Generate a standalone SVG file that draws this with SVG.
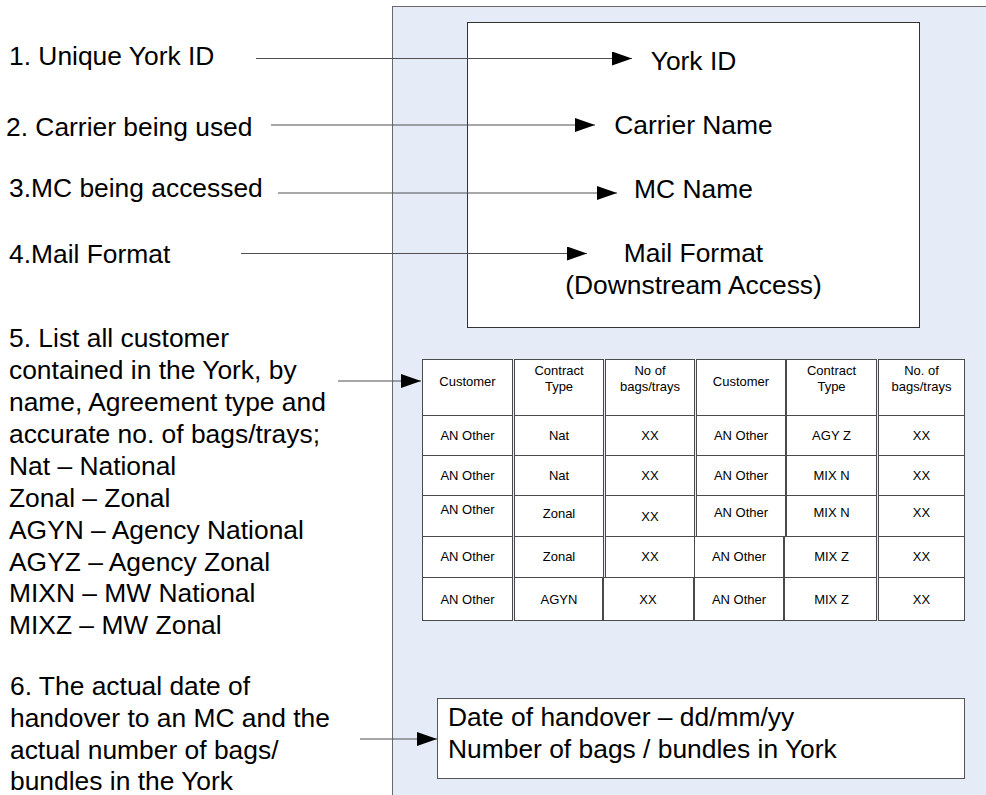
<svg xmlns="http://www.w3.org/2000/svg" width="986" height="795" viewBox="0 0 986 795">
  <style>
    text { font-family: "Liberation Sans", Arial, sans-serif; fill: #000; }
    .big { font-size: 26.4px; }
    .mid { text-anchor: middle; }
    .cell { font-size: 13px; text-anchor: middle; }
    .panel { fill: #E5ECF7; stroke: #6a6a6a; stroke-width: 1; }
    .box { fill: #fff; stroke: #333; stroke-width: 1; }
    .tc { fill: #fff; stroke: #4a4a4a; stroke-width: 1; }
    .conn { stroke: #505050; stroke-width: 1; fill: none; marker-end: url(#arrow); }
  </style>
  <defs>
    <marker id="arrow" viewBox="0 0 20 14" refX="20" refY="7" markerWidth="20" markerHeight="14" markerUnits="userSpaceOnUse" orient="auto">
      <path d="M0,0 L20,7 L0,14 Z" fill="#000"/>
    </marker>
  </defs>

  <rect width="986" height="795" fill="#fff"/>

  <!-- background panel holding the York label -->
  <g id="panel">
    <rect class="panel" x="392.5" y="6.5" width="620" height="820"/>
  </g>

  <!-- header box -->
  <g id="header-box">
    <rect class="box" x="467.5" y="22.5" width="452" height="305"/>
    <text class="big mid" x="693.5" y="70">York ID</text>
    <text class="big mid" x="693.5" y="134">Carrier Name</text>
    <text class="big mid" x="693.5" y="198">MC Name</text>
    <text class="big mid" x="693.5" y="262">Mail Format</text>
    <text class="big mid" x="693.5" y="294">(Downstream Access)</text>
  </g>

  <!-- customer table -->
  <g id="customer-table">
    <!-- header row -->
    <rect class="tc" x="422.5" y="359.5" width="90" height="56"/>
    <rect class="tc" x="514.5" y="359.5" width="89" height="56"/>
    <rect class="tc" x="605.5" y="359.5" width="89" height="56"/>
    <rect class="tc" x="696.5" y="359.5" width="89" height="56"/>
    <rect class="tc" x="786.5" y="359.5" width="90" height="56"/>
    <rect class="tc" x="878.5" y="359.5" width="86" height="56"/>
    <!-- row 1 -->
    <rect class="tc" x="422.5" y="415.5" width="90" height="40"/>
    <rect class="tc" x="514.5" y="415.5" width="89" height="40"/>
    <rect class="tc" x="605.5" y="415.5" width="89" height="40"/>
    <rect class="tc" x="696.5" y="415.5" width="89" height="40"/>
    <rect class="tc" x="786.5" y="415.5" width="90" height="40"/>
    <rect class="tc" x="878.5" y="415.5" width="86" height="40"/>
    <!-- row 2 -->
    <rect class="tc" x="422.5" y="455.5" width="90" height="40"/>
    <rect class="tc" x="514.5" y="455.5" width="89" height="40"/>
    <rect class="tc" x="605.5" y="455.5" width="89" height="40"/>
    <rect class="tc" x="696.5" y="455.5" width="89" height="40"/>
    <rect class="tc" x="786.5" y="455.5" width="90" height="40"/>
    <rect class="tc" x="878.5" y="455.5" width="86" height="40"/>
    <!-- row 3 -->
    <rect class="tc" x="422.5" y="495.5" width="90" height="41"/>
    <rect class="tc" x="514.5" y="495.5" width="89" height="41"/>
    <rect class="tc" x="605.5" y="495.5" width="89" height="41"/>
    <rect class="tc" x="696.5" y="495.5" width="89" height="41"/>
    <rect class="tc" x="786.5" y="495.5" width="90" height="41"/>
    <rect class="tc" x="878.5" y="495.5" width="86" height="41"/>
    <!-- row 4 -->
    <rect class="tc" x="422.5" y="536.5" width="90" height="41"/>
    <rect class="tc" x="514.5" y="536.5" width="89" height="41"/>
    <rect class="tc" x="605.5" y="536.5" width="89" height="41"/>
    <rect class="tc" x="694.5" y="536.5" width="89" height="41"/>
    <rect class="tc" x="784.5" y="536.5" width="92" height="41"/>
    <rect class="tc" x="878.5" y="536.5" width="86" height="41"/>
    <!-- row 5 -->
    <rect class="tc" x="422.5" y="577.5" width="90" height="43"/>
    <rect class="tc" x="514.5" y="577.5" width="88" height="43"/>
    <rect class="tc" x="603.5" y="577.5" width="90" height="43"/>
    <rect class="tc" x="694.5" y="577.5" width="89" height="43"/>
    <rect class="tc" x="784.5" y="577.5" width="92" height="43"/>
    <rect class="tc" x="878.5" y="577.5" width="86" height="43"/>

    <!-- header texts -->
    <text class="cell" x="467.5" y="386">Customer</text>
    <text class="cell" x="559" y="375">Contract</text>
    <text class="cell" x="559" y="391">Type</text>
    <text class="cell" x="650" y="375">No of</text>
    <text class="cell" x="650" y="391">bags/trays</text>
    <text class="cell" x="741" y="386">Customer</text>
    <text class="cell" x="831.5" y="375">Contract</text>
    <text class="cell" x="831.5" y="391">Type</text>
    <text class="cell" x="921.5" y="375">No. of</text>
    <text class="cell" x="921.5" y="391">bags/trays</text>

    <!-- row 1 -->
    <text class="cell" x="467.5" y="440">AN Other</text>
    <text class="cell" x="559" y="440">Nat</text>
    <text class="cell" x="650" y="440">XX</text>
    <text class="cell" x="741" y="440">AN Other</text>
    <text class="cell" x="831.5" y="440">AGY Z</text>
    <text class="cell" x="921.5" y="440">XX</text>
    <!-- row 2 -->
    <text class="cell" x="467.5" y="480">AN Other</text>
    <text class="cell" x="559" y="480">Nat</text>
    <text class="cell" x="650" y="480">XX</text>
    <text class="cell" x="741" y="480">AN Other</text>
    <text class="cell" x="831.5" y="480">MIX N</text>
    <text class="cell" x="921.5" y="480">XX</text>
    <!-- row 3 -->
    <text class="cell" x="467.5" y="514">AN Other</text>
    <text class="cell" x="559" y="518">Zonal</text>
    <text class="cell" x="650" y="521">XX</text>
    <text class="cell" x="741" y="517">AN Other</text>
    <text class="cell" x="831.5" y="517">MIX N</text>
    <text class="cell" x="921.5" y="517">XX</text>
    <!-- row 4 -->
    <text class="cell" x="467.5" y="561">AN Other</text>
    <text class="cell" x="559" y="561">Zonal</text>
    <text class="cell" x="650" y="561">XX</text>
    <text class="cell" x="739" y="561">AN Other</text>
    <text class="cell" x="831.5" y="561">MIX Z</text>
    <text class="cell" x="921.5" y="561">XX</text>
    <!-- row 5 -->
    <text class="cell" x="467.5" y="604">AN Other</text>
    <text class="cell" x="559" y="604">AGYN</text>
    <text class="cell" x="648" y="604">XX</text>
    <text class="cell" x="739" y="604">AN Other</text>
    <text class="cell" x="831.5" y="604">MIX Z</text>
    <text class="cell" x="921.5" y="604">XX</text>
  </g>

  <!-- handover box -->
  <g id="handover-box">
    <rect class="box" x="437.5" y="698.5" width="527" height="80" style="stroke:#555"/>
    <text class="big" x="448" y="726">Date of handover – dd/mm/yy</text>
    <text class="big" x="448" y="758">Number of bags / bundles in York</text>
  </g>

  <!-- notes on the left -->
  <g id="note-1"><text class="big" x="9" y="65">1. Unique York ID</text></g>
  <g id="note-2"><text class="big" x="6" y="136">2. Carrier being used</text></g>
  <g id="note-3"><text class="big" x="9" y="197">3.MC being accessed</text></g>
  <g id="note-4"><text class="big" x="9" y="263">4.Mail Format</text></g>
  <g id="note-5">
    <text class="big" x="9" y="347">5. List all customer</text>
    <text class="big" x="9" y="379">contained in the York, by</text>
    <text class="big" x="9" y="411">name, Agreement type and</text>
    <text class="big" x="9" y="443">accurate no. of bags/trays;</text>
    <text class="big" x="9" y="475">Nat – National</text>
    <text class="big" x="9" y="507">Zonal – Zonal</text>
    <text class="big" x="9" y="539">AGYN – Agency National</text>
    <text class="big" x="9" y="571">AGYZ – Agency Zonal</text>
    <text class="big" x="9" y="602">MIXN – MW National</text>
    <text class="big" x="9" y="634">MIXZ – MW Zonal</text>
  </g>
  <g id="note-6">
    <text class="big" x="10" y="695">6. The actual date of</text>
    <text class="big" x="10" y="727">handover to an MC and the</text>
    <text class="big" x="10" y="759">actual number of bags/</text>
    <text class="big" x="10" y="790">bundles in the York</text>
  </g>

  <!-- connectors -->
  <g id="connectors">
    <line class="conn" x1="256" y1="58.5" x2="632" y2="58.5"/>
    <line class="conn" x1="271" y1="125" x2="595" y2="125"/>
    <line class="conn" x1="278" y1="193" x2="617" y2="193"/>
    <line class="conn" x1="241" y1="253.5" x2="587" y2="253.5"/>
    <line class="conn" x1="338" y1="381" x2="421" y2="381"/>
    <line class="conn" x1="360" y1="739" x2="437" y2="739"/>
  </g>
</svg>
